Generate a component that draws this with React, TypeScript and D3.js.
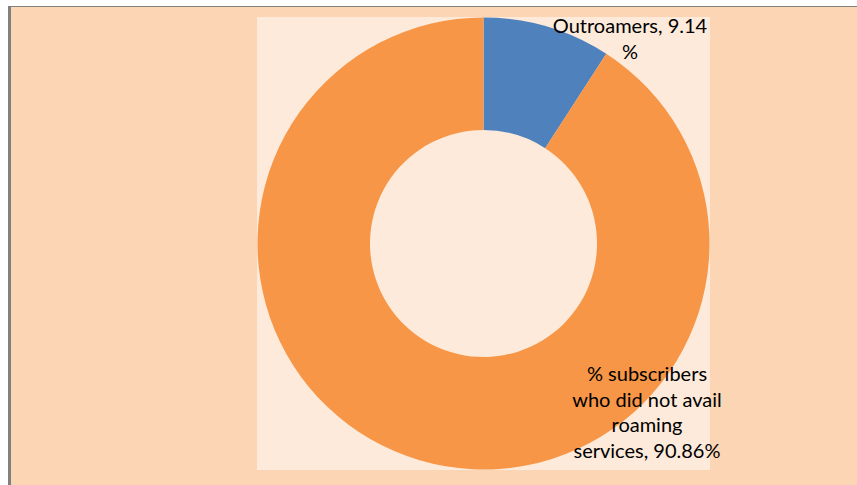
import React from "react";
import * as d3 from "d3";

const categories = ["Outroamers", "% subscribers who did not avail roaming services"];
const values = [9.14, 90.86];
const labelLines = [
  ["Outroamers, 9.14", "%"],
  ["% subscribers", "who did not avail", "roaming", "services, 90.86%"],
];
const colors = ["#4F81BD", "#F79646"];

export default function App() {
  const W = 857;
  const H = 485;
  const plot = { x: 257, y: 17, w: 453, h: 453 };
  const cx = plot.x + plot.w / 2;
  const cy = plot.y + plot.h / 2;
  const outerR = 226;
  const innerR = 113.5;

  const pie = d3.pie<number>().sort(null).value((d) => d);
  const arcs = pie(values);
  const arcGen = d3.arc<d3.PieArcDatum<number>>().innerRadius(innerR).outerRadius(outerR);

  const labelPos = [
    { x: 630, y: 33 },
    { x: 647, y: 381 },
  ];
  const lineH = 25.5;

  return (
    <svg
      width={W}
      height={H}
      style={{ position: "absolute", left: 0, top: 0, background: "#ffffff" }}
    >
      <rect x={8} y={6} width={W - 8} height={H - 6} fill="#808080" />
      <rect x={11} y={7} width={W - 11} height={H - 7} fill="#FCD5B5" />
      <rect x={plot.x} y={plot.y} width={plot.w} height={plot.h} fill="#FDEADA" />
      <g transform={`translate(${cx},${cy})`}>
        {arcs.map((a, i) => (
          <path key={categories[i]} d={arcGen(a) || ""} fill={colors[i]} />
        ))}
      </g>
      {labelLines.map((lines, i) => (
        <text
          key={i}
          x={labelPos[i].x}
          y={labelPos[i].y}
          textAnchor="middle"
          fontFamily="Lato, 'Open Sans', sans-serif"
          fontSize={20}
          fill="#000"
        >
          {lines.map((l, j) => (
            <tspan key={j} x={labelPos[i].x} y={labelPos[i].y + j * lineH}>
              {l}
            </tspan>
          ))}
        </text>
      ))}
    </svg>
  );
}
